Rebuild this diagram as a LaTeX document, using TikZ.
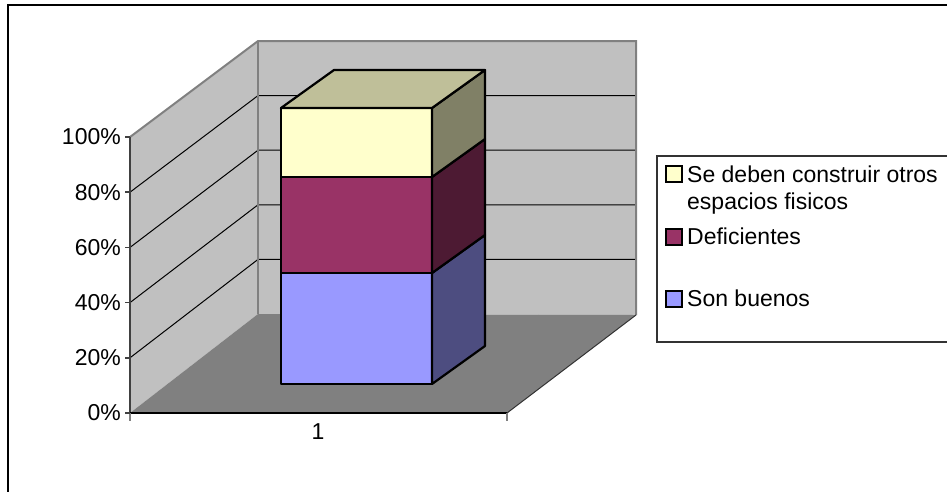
\documentclass[tikz,border=0pt]{standalone}
\usepackage{fontspec}
\setmainfont{Liberation Sans}
\definecolor{wallgrey}{HTML}{C0C0C0}
\definecolor{floorgrey}{HTML}{808080}
\definecolor{edgegrey}{HTML}{808080}
\definecolor{blueF}{HTML}{9999FF}
\definecolor{blueS}{HTML}{4D4D80}
\definecolor{marF}{HTML}{993366}
\definecolor{marS}{HTML}{4D1A33}
\definecolor{yelF}{HTML}{FFFFCC}
\definecolor{yelT}{HTML}{BFBF99}
\definecolor{yelS}{HTML}{808066}
\begin{document}
\begin{tikzpicture}[x=1pt,y=-1pt,
  lbl/.style={inner sep=0pt,font=\fontsize{23}{27}\selectfont},
  barface/.style={draw=black,line width=2.2pt,line join=round},
  grid/.style={draw=black,line width=1pt},
  legmark/.style={draw=black,line width=1.5pt}]
\useasboundingbox (0,0) rectangle (947,491);
% outer frame
\draw[black,line width=1.3pt] (8,505) -- (8,5) -- (960,5);
% coordinates
\coordinate (FL0) at (130,413); \coordinate (FL100) at (130,137);
\coordinate (BL0) at (258,314); \coordinate (BL100) at (258,41);
\coordinate (BR0) at (636,315); \coordinate (BR100) at (636,41);
\coordinate (FR0) at (507,413);
% walls and floor
\fill[wallgrey] (FL0) -- (FL100) -- (BL100) -- (BL0) -- cycle;
\fill[wallgrey] (BL0) -- (BL100) -- (BR100) -- (BR0) -- cycle;
\fill[floorgrey] (FL0) -- (FR0) -- (BR0) -- (BL0) -- cycle;
% gridlines
\foreach \i in {1,2,3,4}{
  \pgfmathsetmacro{\yf}{413-55.2*\i}
  \pgfmathsetmacro{\yb}{314-54.6*\i}
  \draw[grid] (130,\yf) -- (258,\yb) -- (636,\yb);
}
% wall edges
\draw[edgegrey,line width=2pt] (FL100) -- (BL100) -- (BR100) -- (BR0);
\draw[edgegrey,line width=2.5pt] (BL100) -- (BL0);
\draw[black!80,line width=1pt] (FR0) -- (BR0);
% bar
\def\xl{281}\def\xr{432}\def\dx{53}\def\dy{38}
\def\ya{384}\def\yb{273}\def\yc{177}\def\yd{108}
\path[barface,fill=blueF] (\xl,\ya) rectangle (\xr,\yb);
\path[barface,fill=marF] (\xl,\yb) rectangle (\xr,\yc);
\path[barface,fill=yelF] (\xl,\yc) rectangle (\xr,\yd);
\path[barface,fill=blueS] (\xr,\ya) -- (\xr+\dx,\ya-\dy) -- (\xr+\dx,\yb-\dy) -- (\xr,\yb) -- cycle;
\path[barface,fill=marS] (\xr,\yb) -- (\xr+\dx,\yb-\dy) -- (\xr+\dx,\yc-\dy) -- (\xr,\yc) -- cycle;
\path[barface,fill=yelS] (\xr,\yc) -- (\xr+\dx,\yc-\dy) -- (\xr+\dx,\yd-\dy) -- (\xr,\yd) -- cycle;
\path[barface,fill=yelT] (\xl,\yd) -- (\xl+\dx,\yd-\dy) -- (\xr+\dx,\yd-\dy) -- (\xr,\yd) -- cycle;
% axes
\draw[black!75,line width=2.5pt] (130,415) -- (FL100);
\draw[black,line width=2pt] (FL0) -- (FR0);
\draw[edgegrey,line width=1.5pt] (130,413) -- (130,421);
\draw[edgegrey,line width=1.5pt] (507,413) -- (507,421);
\foreach \i/\t in {0/0\%,1/20\%,2/40\%,3/60\%,4/80\%,5/100\%}{
  \pgfmathsetmacro{\yf}{413-55.2*\i}
  \draw[black!75,line width=1.5pt] (125,\yf) -- (130,\yf);
  \node[lbl,anchor=east] (ylab\i) at (121,\yf) {\t};
}
\node[lbl] (xlab) at (318,432) {1};
% legend
\draw[black!80,line width=1.2pt] (960,156) -- (657,156) -- (657,342) -- (960,342);
\path[legmark,fill=yelF] (666,166) rectangle (682,182);
\path[legmark,fill=marF] (666,229) rectangle (682,245);
\path[legmark,fill=blueF] (666,291) rectangle (682,307);
\node[lbl,anchor=base west] (leg1) at (687,182) {Se deben construir otros};
\node[lbl,anchor=base west] (leg1b) at (687,209) {espacios fisicos};
\node[lbl,anchor=base west] (leg2) at (687,244) {Deficientes};
\node[lbl,anchor=base west] (leg3) at (687,306) {Son buenos};
\end{tikzpicture}
\end{document}
